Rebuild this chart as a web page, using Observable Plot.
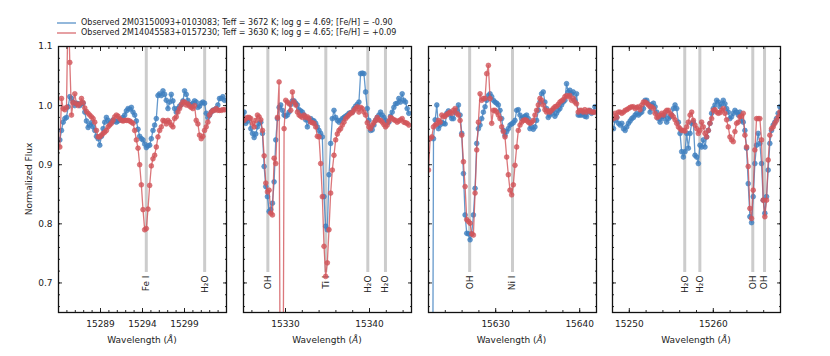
<!DOCTYPE html>
<html><head><meta charset="utf-8">
<script src="https://cdn.jsdelivr.net/npm/d3@7"></script>
<script src="https://cdn.jsdelivr.net/npm/@observablehq/plot@0.6"></script>
<style>
body{margin:0;background:#fff;font-family:"DejaVu Sans",sans-serif;}
#root{position:relative;width:830px;height:356px;overflow:hidden;background:#fff;}
.panel{position:absolute;top:0;}
.xlabel{position:absolute;top:335px;font-size:9px;color:#222;text-align:center;width:168px;white-space:nowrap;}
.ylabel{position:absolute;left:29px;top:179px;font-size:9px;color:#222;white-space:nowrap;transform:translate(-50%,-50%) rotate(-90deg);}
.legend{position:absolute;left:57px;top:18px;font-size:8px;color:#222;line-height:10px;}
.legend div{display:flex;align-items:center;height:10px;}
.legend svg{margin-right:5px;}
</style></head><body><div id="root"></div>
<script>
// ---------------- data ----------------
const seriesNames = [
  "Observed 2M03150093+0103083; Teff = 3672 K; log g = 4.69; [Fe/H] = -0.90",
  "Observed 2M14045583+0157230; Teff = 3630 K; log g = 4.65; [Fe/H] = +0.09"
];
const pixelStep = 0.198; // Å between spectrum pixels

// Panel 1
const p1Domain = [15284, 15304];
const p1Start = 15284.16;
const p1Blue = [
0.942,0.958,0.972,0.978,0.980,0.998,1.015,1.012,1.006,1.000,
1.004,1.003,1.000,1.003,1.004,0.989,0.974,0.963,0.967,0.971,
0.964,0.958,0.948,0.944,0.933,0.948,0.961,0.972,0.980,0.975,
0.969,0.972,0.976,0.974,0.972,0.974,0.976,0.976,0.980,0.984,
0.991,0.995,0.994,0.997,0.989,0.984,0.974,0.960,0.948,0.944,
0.942,0.935,0.929,0.932,0.933,0.944,0.958,0.967,0.978,1.017,
1.020,1.017,1.025,1.019,1.009,0.995,1.006,1.019,1.008,0.995,
0.989,0.995,0.999,1.002,1.008,1.025,1.019,1.009,1.002,1.001,
1.004,1.008,1.006,0.997,0.999,1.004,1.006,1.004,0.987,0.980,
0.984,0.989,0.992,0.993,0.995,1.001,1.012,1.012,1.015,1.009];
const p1Red = [
0.930,1.012,0.995,0.993,0.997,1.180,1.073,0.984,1.005,1.020,
1.003,1.000,1.003,1.012,1.005,0.996,0.990,0.987,0.984,0.981,
0.978,0.972,0.958,0.947,0.947,0.950,0.953,0.955,0.958,0.964,
0.967,0.970,0.975,0.981,0.984,0.982,0.978,0.975,0.974,0.975,
0.975,0.975,0.974,0.972,0.970,0.958,0.942,0.928,0.900,0.866,
0.824,0.790,0.792,0.825,0.865,0.898,0.910,0.916,0.930,0.947,
0.958,0.964,0.975,0.974,0.969,0.975,0.972,0.967,0.964,0.978,
0.981,0.989,0.995,1.001,1.006,1.006,1.001,1.003,0.999,0.997,
0.995,1.000,0.975,0.969,0.950,0.944,0.948,0.958,0.964,0.972,
0.984,0.989,0.992,0.992,0.995,0.992,0.992,0.992,0.993,0.993];
const p1Ticks = [15289, 15294, 15299];
const p1LineWaves = [15294.45, 15301.4];
const p1LineLabels = ["Fe I", "H₂O"];

// Panel 2
const p2Domain = [15325, 15345];
const p2Start = 15325.08;
const p2Blue = [
0.989,0.970,0.974,0.978,0.961,0.953,0.946,0.952,0.964,0.970,
0.972,0.953,0.897,0.863,0.846,0.821,0.824,0.835,0.871,0.942,
0.978,0.997,1.001,0.992,0.984,0.982,0.984,0.989,1.002,1.008,
1.008,1.004,1.001,0.993,0.991,0.989,0.984,0.976,0.964,0.974,
0.978,0.975,0.974,0.970,0.964,0.958,0.953,0.947,0.846,0.796,
0.790,0.883,0.936,0.978,0.992,0.980,0.975,0.972,0.975,0.978,
0.980,0.982,0.984,0.987,0.988,0.989,0.995,0.999,1.002,1.006,
1.054,1.055,1.054,1.023,0.995,0.975,0.958,0.959,0.967,0.975,
0.980,0.984,0.989,0.984,0.980,0.975,0.971,0.972,0.982,0.989,
0.997,1.003,1.004,1.012,1.006,1.020,1.009,1.006,0.995,0.987];
const p2Red = [
0.975,0.978,0.980,0.980,0.978,0.970,0.964,0.975,0.984,0.981,
0.976,0.958,0.915,0.869,0.854,0.857,0.818,0.815,0.911,0.902,
0.980,1.040,0.200,0.200,0.961,1.009,1.006,1.003,0.992,1.023,
1.006,1.001,0.989,0.984,0.982,0.980,0.984,0.980,0.981,0.978,
0.972,0.971,0.970,0.964,0.948,0.947,0.902,0.846,0.762,0.711,
0.734,0.790,0.852,0.891,0.916,0.942,0.952,0.958,0.961,0.967,
0.972,0.978,0.981,0.984,0.987,0.988,0.992,0.995,0.998,0.989,
0.997,0.995,0.989,0.984,0.971,0.964,0.961,0.967,0.971,0.975,
0.980,0.976,0.975,0.972,0.968,0.964,0.967,0.974,0.980,0.978,
0.976,0.975,0.972,0.974,0.976,0.978,0.972,0.971,0.970,0.967];
const p2Ticks = [15330, 15340];
const p2LineWaves = [15327.9, 15334.8, 15339.8, 15341.9];
const p2LineLabels = ["OH", "Ti I", "H₂O", "H₂O"];

// Panel 3
const p3Domain = [15622, 15642];
const p3Start = 15622.0;
const p3Blue = [
0.0,0.0,0.0,0.944,0.976,1.001,0.961,0.967,0.972,0.970,0.969,
0.987,0.991,0.984,0.978,0.978,0.989,0.992,1.001,0.984,0.953,
0.885,0.815,0.784,0.783,0.773,0.783,0.815,0.860,0.936,0.961,
0.967,0.978,0.989,0.998,1.009,1.017,1.020,1.015,1.009,1.006,
1.004,1.001,0.992,0.978,0.958,0.950,0.956,0.961,0.967,0.969,
0.971,0.975,0.992,0.993,0.984,0.978,0.980,0.982,0.984,0.978,
0.961,0.964,0.960,0.964,0.975,0.992,1.006,1.020,1.023,1.006,
0.995,0.980,0.984,0.987,0.992,0.982,0.987,0.992,0.995,1.001,
1.006,1.009,1.037,1.023,1.026,1.020,1.023,1.009,1.020,0.984,
0.984,0.984,0.987,0.982,0.981,0.989,0.992,0.987,0.989,0.998];
const p3Red = [
0.891,0.944,0.947,0.964,0.967,0.969,0.975,0.972,0.984,0.981,
0.982,0.985,0.987,0.989,0.987,0.992,0.995,0.987,0.984,0.975,
0.950,0.905,0.863,0.807,0.804,0.801,0.783,0.781,0.852,0.925,
0.972,1.020,1.009,1.012,1.012,1.054,1.068,1.012,0.970,0.992,
0.992,0.989,0.984,0.978,0.964,0.956,0.947,0.913,0.883,0.857,
0.849,0.866,0.899,0.930,0.958,0.967,0.972,0.975,0.976,0.975,
0.972,0.970,0.972,0.975,0.984,0.992,1.001,1.012,1.009,1.001,
0.993,0.989,0.991,0.989,0.992,0.995,0.998,0.999,1.002,1.006,
1.008,1.010,1.015,1.017,1.015,1.017,1.009,1.012,1.006,1.003,
0.989,0.992,0.992,0.989,0.993,0.989,0.992,0.991,0.989,0.989,0.989];
const p3Ticks = [15630, 15640];
const p3LineWaves = [15626.9, 15632.0];
const p3LineLabels = ["OH", "Ni I"];

// Panel 4
const p4Domain = [15248, 15268];
const p4Start = 15248.12;
const p4Blue = [
0.961,0.975,0.980,0.970,0.967,0.970,0.961,0.958,0.964,0.970,
0.974,0.978,0.980,0.984,0.987,0.984,0.987,0.989,0.995,1.009,
1.009,1.003,0.989,1.001,1.004,0.998,0.989,0.978,0.972,0.981,
0.978,0.984,0.972,0.978,0.981,0.984,0.995,1.001,0.995,0.972,
0.953,0.922,0.913,0.922,0.953,0.928,0.953,0.970,0.972,0.916,
0.913,0.902,0.933,0.930,0.942,0.930,0.947,0.958,0.970,0.987,
0.995,1.001,1.009,1.006,0.998,1.003,1.009,1.003,0.995,0.989,
0.978,0.981,0.987,0.992,0.989,0.984,0.989,0.975,0.972,0.958,
0.928,0.868,0.812,0.802,0.846,0.902,0.933,0.953,0.936,0.902,
0.840,0.818,0.846,0.891,0.936,0.958,0.967,0.972,0.978,0.987,0.998];
const p4Red = [
0.978,0.987,0.980,0.989,0.989,0.987,0.989,0.992,0.993,0.995,
0.997,0.998,0.998,0.995,0.997,0.998,0.993,1.001,1.006,1.006,
1.004,1.001,0.998,0.998,0.995,0.987,0.980,0.981,0.984,0.987,
0.984,0.989,0.992,0.992,0.987,0.984,0.981,0.976,0.970,0.964,
0.961,0.958,0.958,0.957,0.964,0.972,0.984,0.989,0.975,0.967,
0.961,0.953,0.958,0.972,0.964,0.953,0.947,0.958,0.970,0.978,
0.992,0.993,0.989,0.987,0.988,0.992,0.995,0.987,0.976,0.964,
0.947,0.942,0.939,0.956,0.970,0.972,0.981,0.982,0.987,0.950,
0.930,0.897,0.826,0.809,0.857,0.925,0.978,0.978,0.978,0.942,
0.840,0.812,0.840,0.908,0.950,0.961,0.964,0.970,0.975,0.981,0.989];
const p4Ticks = [15250, 15260];
const p4LineWaves = [15256.6, 15258.4, 15264.7, 15266.1];
const p4LineLabels = ["H₂O", "H₂O", "OH", "OH"];

const yDomain = [0.65, 1.1];
const yTicks = [0.7, 0.8, 0.9, 1.0, 1.1];

// ---------------- drawing ----------------
const BLUE = "#3f7fbf";
const RED = "#d2555a";
const panels = [
  {domain: p1Domain, start: p1Start, blue: p1Blue, red: p1Red, ticks: p1Ticks, minor: 1, waves: p1LineWaves, labels: p1LineLabels, left: 58},
  {domain: p2Domain, start: p2Start, blue: p2Blue, red: p2Red, ticks: p2Ticks, minor: 2, waves: p2LineWaves, labels: p2LineLabels, left: 243},
  {domain: p3Domain, start: p3Start, blue: p3Blue, red: p3Red, ticks: p3Ticks, minor: 2, waves: p3LineWaves, labels: p3LineLabels, left: 427.5},
  {domain: p4Domain, start: p4Start, blue: p4Blue, red: p4Red, ticks: p4Ticks, minor: 2, waves: p4LineWaves, labels: p4LineLabels, left: 612}
];
const root = document.getElementById("root");
const W = 168;
const yMinor = d3.range(66, 111, 2).map(v => v / 100);

// inward-pointing ticks: positive tick length shifted back inside the frame
function ticksX(values, anchor, size) {
  return Plot.axisX(values, {anchor, tickSize: size, dy: anchor === "bottom" ? -size : size,
    stroke: "#111", strokeWidth: 0.9, tickFormat: () => "", label: null});
}
function ticksY(values, anchor, size) {
  return Plot.axisY(values, {anchor, tickSize: size, dx: anchor === "left" ? size : -size,
    stroke: "#111", strokeWidth: 0.9, tickFormat: () => "", label: null});
}

panels.forEach((p, i) => {
  const first = i === 0;
  const mL = first ? 58 : 10, mR = 10;
  const blue = p.blue.map((f, k) => ({w: p.start + k * pixelStep, f}));
  const red = p.red.map((f, k) => ({w: p.start + k * pixelStep, f}));
  const lines = p.waves.map((w, k) => ({w, label: p.labels[k]}));
  const xMinor = d3.range(Math.ceil(p.domain[0] / p.minor) * p.minor, p.domain[1] + 1e-9, p.minor);
  const marks = [
    Plot.ruleX(lines, {x: "w", stroke: "#cccccc", strokeWidth: 3, insetBottom: 40}),
    Plot.text(lines, {x: "w", text: "label", frameAnchor: "bottom", dy: -37, rotate: -90, textAnchor: "end", lineAnchor: "middle", fontSize: 9, fill: "#222"}),
    Plot.line(blue, {x: "w", y: "f", stroke: BLUE, strokeWidth: 1.3, strokeOpacity: 0.8, clip: true}),
    Plot.dot(blue, {x: "w", y: "f", r: 2.4, fill: BLUE, fillOpacity: 0.8, stroke: BLUE, strokeWidth: 0.6, clip: true}),
    Plot.line(red, {x: "w", y: "f", stroke: RED, strokeWidth: 1.3, strokeOpacity: 0.8, clip: true}),
    Plot.dot(red, {x: "w", y: "f", r: 2.4, fill: RED, fillOpacity: 0.8, stroke: RED, strokeWidth: 0.6, clip: true}),
    ticksX(p.ticks, "bottom", 4),
    ticksX(p.ticks, "top", 4),
    ticksX(xMinor, "bottom", 2),
    ticksX(xMinor, "top", 2),
    Plot.axisX(p.ticks, {anchor: "bottom", tickSize: 0, tickPadding: 8, label: null, fontSize: 9, fill: "#222", tickFormat: d => String(d)}),
    ticksY(yTicks, "left", 4),
    ticksY(yTicks, "right", 4),
    ticksY(yMinor, "left", 2),
    ticksY(yMinor, "right", 2),
    Plot.frame({stroke: "#111", strokeWidth: 1.3})
  ];
  if (first) marks.push(Plot.axisY(yTicks, {anchor: "left", tickSize: 0, tickPadding: 6, label: null, fontSize: 9, fill: "#222", tickFormat: d3.format(".1f")}));
  const svg = Plot.plot({
    width: W + mL + mR, height: 356,
    marginTop: 46, marginBottom: 44, marginLeft: mL, marginRight: mR,
    x: {domain: p.domain, axis: null},
    y: {domain: yDomain, axis: null},
    style: {fontFamily: "DejaVu Sans", fontSize: "9px", color: "#222", background: "transparent", overflow: "visible"},
    marks
  });
  svg.classList.add("panel");
  svg.style.left = (p.left - mL) + "px";
  root.appendChild(svg);
  const xl = document.createElement("div");
  xl.className = "xlabel";
  xl.style.left = p.left + "px";
  xl.innerHTML = "Wavelength (<i>Å</i>)";
  root.appendChild(xl);
});

const yl = document.createElement("div");
yl.className = "ylabel";
yl.textContent = "Normalized Flux";
root.appendChild(yl);

const lg = document.createElement("div");
lg.className = "legend";
[[BLUE, seriesNames[0]], [RED, seriesNames[1]]].forEach(([c, t]) => {
  const row = document.createElement("div");
  row.innerHTML = `<svg width="19" height="10"><line x1="0" x2="19" y1="5" y2="5" stroke="${c}" stroke-opacity="0.8" stroke-width="1.4"/></svg><span></span>`;
  row.querySelector("span").textContent = t;
  lg.appendChild(row);
});
root.appendChild(lg);
</script></body></html>
